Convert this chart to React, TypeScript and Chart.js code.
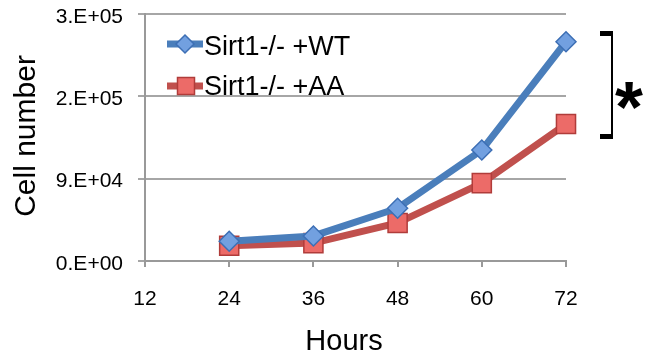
import React, { useEffect, useRef } from "react";
import { Chart, registerables } from "chart.js";

Chart.register(...registerables);

const hours = [24, 36, 48, 60, 72];
const wtValues = [22000, 28000, 59000, 124000, 245000];
const aaValues = [17000, 20000, 42500, 87000, 153000];
const seriesNames = ["Sirt1-/- +WT", "Sirt1-/- +AA"];
const yTickLabels = ["0.E+00", "9.E+04", "2.E+05", "3.E+05"];
const yStep = 92000;
const xMin = 12;
const xMax = 72;
const xStep = 12;

const BLUE_LINE = "#4a7ebb";
const BLUE_FILL = "#72a0e0";
const BLUE_EDGE = "#3d6fb5";
const RED_LINE = "#c0504d";
const RED_FILL = "#ec6b68";
const RED_EDGE = "#b03c3a";
const FONT = "'Liberation Sans', Arial, sans-serif";

function drawDiamond(ctx: CanvasRenderingContext2D, x: number, y: number, r: number) {
  ctx.beginPath();
  ctx.moveTo(x, y - r);
  ctx.lineTo(x + r, y);
  ctx.lineTo(x, y + r);
  ctx.lineTo(x - r, y);
  ctx.closePath();
  ctx.fillStyle = BLUE_FILL;
  ctx.fill();
  ctx.lineWidth = 1.5;
  ctx.strokeStyle = BLUE_EDGE;
  ctx.stroke();
}

function drawSquare(ctx: CanvasRenderingContext2D, x: number, y: number, s: number) {
  ctx.fillStyle = RED_FILL;
  ctx.fillRect(x - s / 2, y - s / 2, s, s);
  ctx.lineWidth = 1.5;
  ctx.strokeStyle = RED_EDGE;
  ctx.strokeRect(x - s / 2, y - s / 2, s, s);
}

const extrasPlugin = {
  id: "extras",
  afterDraw(chart: any) {
    const ctx: CanvasRenderingContext2D = chart.ctx;
    ctx.save();
    // axis titles
    ctx.fillStyle = "#000";
    ctx.font = `30px ${FONT}`;
    ctx.textAlign = "center";
    ctx.textBaseline = "middle";
    ctx.save();
    ctx.translate(26.5, 136);
    ctx.rotate(-Math.PI / 2);
    ctx.fillText("Cell number", 0, 0);
    ctx.restore();
    ctx.font = `29px ${FONT}`;
    ctx.textBaseline = "alphabetic";
    ctx.fillText("Hours", 344, 350);

    // legend
    ctx.lineCap = "butt";
    ctx.lineWidth = 7;
    ctx.strokeStyle = BLUE_LINE;
    ctx.beginPath();
    ctx.moveTo(167, 44);
    ctx.lineTo(203, 44);
    ctx.stroke();
    drawDiamond(ctx, 185, 44, 9);
    ctx.lineWidth = 7;
    ctx.strokeStyle = RED_LINE;
    ctx.beginPath();
    ctx.moveTo(167, 86);
    ctx.lineTo(203, 86);
    ctx.stroke();
    drawSquare(ctx, 186, 86, 17);
    ctx.fillStyle = "#000";
    ctx.font = `27px ${FONT}`;
    ctx.textAlign = "left";
    ctx.textBaseline = "alphabetic";
    ctx.fillText(seriesNames[0], 204, 55);
    ctx.fillText(seriesNames[1], 204, 95);

    // significance bracket
    ctx.strokeStyle = "#000";
    ctx.lineWidth = 2;
    ctx.beginPath();
    ctx.moveTo(612, 33);
    ctx.lineTo(612, 137);
    ctx.stroke();
    ctx.fillStyle = "#000";
    ctx.fillRect(600, 31, 13, 5);
    ctx.fillRect(600, 134, 13, 5);
    // asterisk
    ctx.font = `bold 100px ${FONT}`;
    const m = ctx.measureText("*");
    const w = m.actualBoundingBoxLeft + m.actualBoundingBoxRight;
    const size = (100 * 28) / (w || 40);
    ctx.font = `bold ${size}px ${FONT}`;
    const m2 = ctx.measureText("*");
    const cx = 629;
    const cy = 95;
    const gx = cx - (m2.actualBoundingBoxRight - m2.actualBoundingBoxLeft) / 2;
    const gy = cy + (m2.actualBoundingBoxAscent - m2.actualBoundingBoxDescent) / 2;
    ctx.textAlign = "left";
    ctx.fillText("*", gx, gy);
    ctx.restore();
  },
};

export default function App() {
  const canvasRef = useRef<HTMLCanvasElement | null>(null);

  useEffect(() => {
    document.body.style.margin = "0";
    const canvas = canvasRef.current;
    if (!canvas) return;
    const chart = new Chart(canvas, {
      type: "line",
      data: {
        datasets: [
          {
            label: seriesNames[0],
            data: hours.map((h, i) => ({ x: h, y: wtValues[i] })),
            borderColor: BLUE_LINE,
            borderWidth: 7,
            pointStyle: "rectRot",
            pointRadius: 10,
            pointBackgroundColor: BLUE_FILL,
            pointBorderColor: BLUE_EDGE,
            pointBorderWidth: 1.5,
            tension: 0,
            clip: false,
          },
          {
            label: seriesNames[1],
            data: hours.map((h, i) => ({ x: h, y: aaValues[i] })),
            borderColor: RED_LINE,
            borderWidth: 7,
            pointStyle: "rect",
            pointRadius: 13.5,
            pointBackgroundColor: RED_FILL,
            pointBorderColor: RED_EDGE,
            pointBorderWidth: 1.5,
            tension: 0,
            clip: false,
          },
        ],
      },
      options: {
        animation: false,
        responsive: false,
        devicePixelRatio: 1,
        layout: { autoPadding: false, padding: { left: 0, right: 85, top: 14, bottom: 0 } },
        plugins: {
          legend: { display: false },
          tooltip: { enabled: false },
        },
        scales: {
          x: {
            type: "linear",
            min: xMin,
            max: xMax,
            ticks: {
              stepSize: xStep,
              color: "#000",
              font: { family: FONT, size: 21 },
              padding: 20,
            },
            grid: {
              drawOnChartArea: false,
              drawTicks: true,
              tickLength: 6,
              color: "#999",
              lineWidth: 2,
            },
            border: { color: "#999", width: 2 },
            afterFit: (scale: any) => {
              scale.height = 95;
              scale.paddingLeft = 0;
              scale.paddingRight = 0;
            },
          },
          y: {
            min: 0,
            max: yStep * (yTickLabels.length - 1),
            ticks: {
              stepSize: yStep,
              color: "#000",
              font: { family: FONT, size: 21 },
              padding: 15,
              labelOffset: 3,
              callback: (_v: any, i: number) => yTickLabels[i],
            },
            grid: {
              color: "#a6a6a6",
              lineWidth: 2,
              tickLength: 7,
            },
            border: { color: "#999", width: 2 },
            afterFit: (scale: any) => {
              scale.width = 145;
              scale.paddingTop = 0;
              scale.paddingBottom = 0;
            },
          },
        },
      },
      plugins: [extrasPlugin],
    });
    return () => chart.destroy();
  }, []);

  return (
    <div style={{ position: "absolute", left: 0, top: 0, width: 651, height: 356, background: "#fff" }}>
      <canvas ref={canvasRef} width={651} height={356} style={{ display: "block" }} />
    </div>
  );
}
